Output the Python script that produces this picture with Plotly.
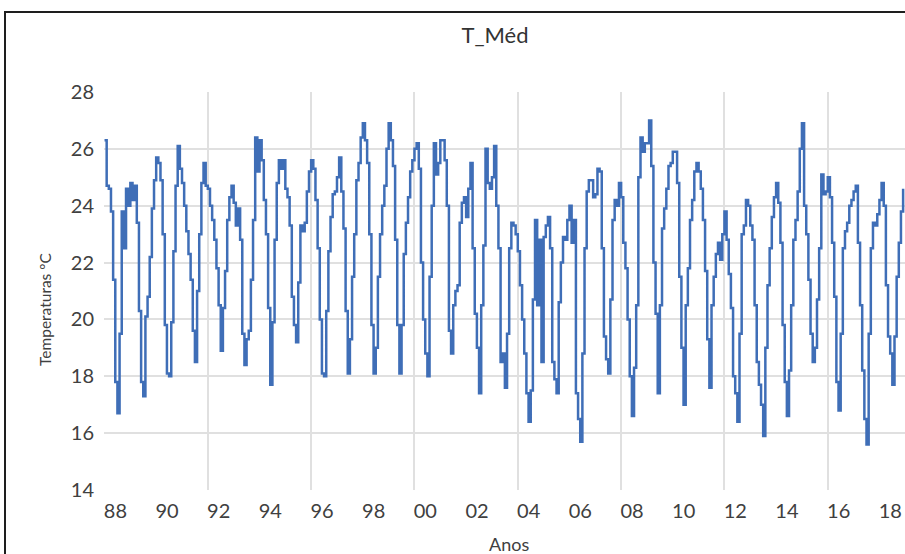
import plotly.graph_objects as go

# ---- data: monthly mean temperature (ºC), Jan..Dec for each year ----
years = list(range(1988, 2019))
t_1988 = [26.3, 24.7, 24.6, 23.8, 21.4, 17.8, 16.7, 19.5, 23.8, 22.5, 24.6, 24.0]
t_1989 = [24.8, 24.2, 24.7, 23.4, 20.3, 17.8, 17.3, 20.1, 20.8, 22.2, 23.9, 24.9]
t_1990 = [25.7, 25.5, 24.9, 23.0, 19.8, 18.1, 18.0, 19.9, 22.4, 24.7, 26.1, 25.3]
t_1991 = [24.8, 24.0, 23.1, 22.3, 21.4, 19.6, 18.5, 21.0, 23.0, 24.8, 25.5, 24.7]
t_1992 = [24.6, 24.0, 23.5, 22.8, 21.8, 20.5, 18.9, 20.4, 21.7, 23.5, 24.3, 24.7]
t_1993 = [24.1, 23.3, 23.9, 22.8, 19.5, 18.4, 19.3, 19.6, 21.4, 23.5, 26.4, 25.2]
t_1994 = [26.3, 25.6, 24.2, 23.0, 20.4, 17.7, 19.9, 22.8, 24.8, 25.6, 25.3, 25.6]
t_1995 = [24.6, 24.3, 23.3, 20.8, 19.8, 19.2, 21.3, 23.3, 23.1, 23.4, 24.5, 25.2]
t_1996 = [25.6, 25.3, 24.2, 22.5, 20.0, 18.1, 18.0, 20.3, 22.4, 23.6, 24.4, 24.5]
t_1997 = [25.0, 25.7, 24.5, 23.2, 20.3, 18.1, 19.3, 21.5, 23.0, 24.9, 25.5, 26.4]
t_1998 = [26.9, 26.3, 25.5, 23.0, 19.8, 18.1, 19.0, 21.5, 23.0, 24.0, 24.7, 26.0]
t_1999 = [26.9, 26.3, 25.4, 22.8, 19.8, 18.1, 19.8, 22.3, 23.4, 24.3, 25.2, 25.6]
t_2000 = [26.0, 26.2, 25.3, 22.0, 20.0, 18.8, 18.0, 21.5, 24.0, 26.2, 25.1, 25.5]
t_2001 = [26.3, 26.3, 25.6, 24.0, 19.6, 18.8, 20.5, 21.0, 21.2, 23.4, 24.1, 24.3]
t_2002 = [23.6, 24.6, 25.5, 22.5, 20.2, 19.0, 17.4, 20.5, 22.6, 26.0, 24.8, 24.6]
t_2003 = [25.0, 26.1, 24.0, 22.5, 18.5, 18.8, 17.6, 19.5, 22.5, 23.4, 23.3, 23.0]
t_2004 = [22.4, 21.2, 20.0, 18.8, 17.4, 16.4, 17.5, 20.7, 23.5, 20.5, 22.8, 18.5]
t_2005 = [22.9, 23.3, 23.6, 22.5, 18.5, 17.9, 17.4, 20.6, 22.0, 22.9, 22.8, 23.5]
t_2006 = [24.0, 22.7, 23.5, 17.4, 16.5, 15.7, 18.8, 22.5, 24.5, 24.9, 24.9, 24.3]
t_2007 = [24.4, 25.3, 25.2, 22.5, 19.4, 18.6, 18.1, 20.7, 23.5, 24.2, 24.0, 24.8]
t_2008 = [24.3, 22.7, 21.8, 20.0, 18.0, 16.6, 18.3, 20.5, 25.0, 26.4, 25.9, 26.2]
t_2009 = [26.2, 27.0, 25.4, 22.0, 20.2, 17.4, 20.5, 23.2, 23.9, 24.6, 25.4, 25.5]
t_2010 = [25.9, 25.9, 24.8, 21.5, 19.0, 17.0, 20.5, 21.8, 23.5, 24.2, 25.2, 25.5]
t_2011 = [25.2, 24.6, 23.5, 21.7, 19.3, 17.6, 20.5, 21.5, 22.3, 22.7, 22.1, 23.0]
t_2012 = [23.8, 22.8, 21.6, 20.4, 18.0, 17.4, 16.4, 19.5, 23.0, 23.3, 24.2, 24.0]
t_2013 = [23.3, 22.8, 20.5, 18.5, 17.7, 17.0, 15.9, 19.0, 21.2, 22.5, 23.6, 24.3]
t_2014 = [24.8, 24.1, 22.7, 19.8, 17.8, 16.6, 18.2, 20.5, 22.8, 23.5, 24.5, 26.0]
t_2015 = [26.9, 24.0, 23.0, 21.4, 19.5, 18.5, 19.0, 20.7, 22.5, 25.1, 24.4, 24.5]
t_2016 = [25.0, 24.3, 22.7, 20.8, 17.8, 16.8, 19.5, 22.5, 23.1, 23.4, 24.0, 24.2]
t_2017 = [24.5, 24.7, 22.7, 20.5, 18.2, 16.5, 15.6, 19.5, 22.5, 23.4, 23.3, 23.7]
t_2018 = [24.2, 24.8, 24.0, 21.2, 19.4, 18.8, 17.7, 19.4, 21.5, 22.7, 23.8, 24.6]

series = [t_1988, t_1989, t_1990, t_1991, t_1992, t_1993, t_1994, t_1995,
          t_1996, t_1997, t_1998, t_1999, t_2000, t_2001, t_2002, t_2003,
          t_2004, t_2005, t_2006, t_2007, t_2008, t_2009, t_2010, t_2011,
          t_2012, t_2013, t_2014, t_2015, t_2016, t_2017, t_2018]

tick_years = list(range(1988, 2019, 2))
tick_labels = ["%02d" % (y % 100) for y in tick_years]
grid_years = list(range(1992, 2017, 4))
y_grid = [16, 18, 20, 22, 24, 26]
y_ticks = [14, 16, 18, 20, 22, 24, 26, 28]

x = [yr + m / 12.0 for yr, vals in zip(years, series) for m in range(len(vals))]
y = [v for vals in series for v in vals]

FONT = "Lato"
TXT = "#404040"
GRID = "#E0E0E0"

fig = go.Figure()
fig.add_trace(go.Scatter(
    x=x, y=y, mode="lines", line=dict(color="#3F6EB7", width=2.5, shape="hv"),
    showlegend=False, hoverinfo="skip"))

W, H = 905, 554
L, R, T, B = 104, 0, 92, 64
pw, ph = W - L - R, H - T - B

fig.update_layout(
    width=W, height=H,
    margin=dict(l=L, r=R, t=T, b=B, pad=0),
    paper_bgcolor="white", plot_bgcolor="white",
    font=dict(family=FONT, color=TXT),
    title=dict(text="T_Méd", x=495 / W, y=1 - 35 / H, xref="container", yref="container",
               xanchor="center", yanchor="middle", font=dict(size=22, color="#333333", family=FONT)),
    xaxis=dict(range=[1987.98, 2018.99], tickmode="array",
               tickvals=[v + 0.42 for v in tick_years], ticktext=tick_labels,
               showgrid=False, zeroline=False, showline=False, ticks="",
               tickfont=dict(size=20, color=TXT, family=FONT), ticklabelstandoff=7,
               minor=dict(tickmode="array", tickvals=grid_years, showgrid=True,
                          gridcolor=GRID, gridwidth=1.5, ticks="")),
    yaxis=dict(range=[14, 28], tickmode="array", tickvals=y_ticks,
               showgrid=False, zeroline=False, showline=False, ticks="",
               tickfont=dict(size=20, color=TXT, family=FONT), ticklabelstandoff=9,
               minor=dict(tickmode="array", tickvals=y_grid, showgrid=True,
                          gridcolor=GRID, gridwidth=1.5, ticks="")),
    annotations=[
        dict(text="Temperaturas ºC", x=(45 - L) / pw, y=(H - B - 309) / ph,
             xref="paper", yref="paper", textangle=-90, showarrow=False,
             xanchor="center", yanchor="middle", font=dict(size=15.5, color=TXT, family=FONT)),
        dict(text="Anos", x=(509 - L) / pw, y=(H - B - 544) / ph,
             xref="paper", yref="paper", showarrow=False,
             xanchor="center", yanchor="middle", font=dict(size=18, color=TXT, family=FONT)),
    ],
    shapes=[dict(type="rect", xref="paper", yref="paper",
                 x0=(5 - L) / pw, x1=1.05, y0=-0.5, y1=(H - B - 12) / ph,
                 line=dict(color="#1E1E1E", width=2), fillcolor="rgba(0,0,0,0)", layer="above")],
)

fig.write_html("out.html")
